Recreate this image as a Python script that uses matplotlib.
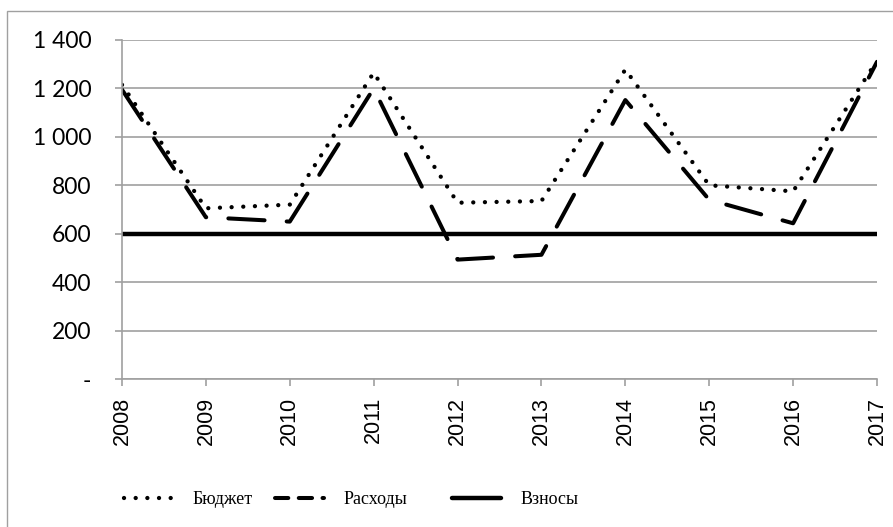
import matplotlib
matplotlib.use('Agg')
import matplotlib.pyplot as plt
from matplotlib.lines import Line2D
from matplotlib.ticker import FuncFormatter

years = ['2008', '2009', '2010', '2011', '2012', '2013', '2014', '2015', '2016', '2017']
budget = [1215, 705, 720, 1265, 728, 735, 1278, 800, 775, 1315]
expenses = [1195, 668, 650, 1200, 493, 513, 1152, 740, 643, 1310]
contrib = [600, 600, 600, 600, 600, 600, 600, 600, 600, 600]
names = ['Бюджет', 'Расходы', 'Взносы']


def fmt(v, pos):
    if v == 0:
        return '-'
    return '{:,.0f}'.format(v).replace(',', ' ')


W, H = 893, 527
fig = plt.figure(figsize=(W / 100, H / 100), dpi=100)
ax = fig.add_axes([122 / W, 1 - 379 / H, 755 / W, 339 / H])

x = list(range(len(years)))
ax.plot(x, budget, color='black', lw=3.1, linestyle=(0, (0.01, 2.7)),
        dash_capstyle='round')
ax.plot(x, expenses, color='black', lw=2.9, linestyle=(0, (9, 5.5)),
        dash_capstyle='round')
ax.plot(x, contrib, color='black', lw=3.2, solid_capstyle='round')

ax.set_xlim(0, len(years) - 1)
ax.set_ylim(0, 1400)
ax.set_yticks(range(0, 1401, 200))
ax.yaxis.set_major_formatter(FuncFormatter(fmt))
ax.set_xticks(x)
ax.set_xticklabels(years, rotation=90)
ax.grid(axis='y', color='#a0a0a0', lw=1.2)
ax.set_axisbelow(True)

for s in ['top', 'right']:
    ax.spines[s].set_visible(False)
ax.spines['left'].set_color('#a0a0a0')
ax.spines['bottom'].set_color('#a0a0a0')
ax.spines['left'].set_linewidth(1.2)
ax.spines['bottom'].set_linewidth(1.2)
ax.tick_params(axis='y', length=5, width=1.2, color='#a0a0a0', labelsize=16.5, pad=17)
ax.tick_params(axis='x', length=5, width=1.2, color='#a0a0a0', labelsize=15.5, pad=8)
for lab in ax.get_yticklabels():
    lab.set_family('Lato')
for lab in ax.get_xticklabels():
    lab.set_family('Liberation Sans')

# legend entries placed one by one, like in the original
handles = [
    Line2D([], [], color='black', lw=3.1, linestyle=(0, (0.01, 2.7)), dash_capstyle='round'),
    Line2D([], [], color='black', lw=2.9, linestyle=(0, (3.3, 2.6)), dash_capstyle='round'),
    Line2D([], [], color='black', lw=3.2, solid_capstyle='round'),
]
starts = [108, 259, 436]
for h, n, s in zip(handles, names, starts):
    lg = fig.legend([h], [n], loc='center left', bbox_to_anchor=(s / W, 1 - 500 / H),
                    frameon=False, prop={'family': 'Liberation Serif', 'size': 13},
                    handlelength=2.7, handletextpad=1.1)

fig.patches.append(plt.Rectangle((7 / W, -0.05), 1.2, 1 - 11 / H + 0.05, transform=fig.transFigure,
                                 fill=False, edgecolor='#a0a0a0', lw=1))

fig.savefig('out.png', dpi=100)
